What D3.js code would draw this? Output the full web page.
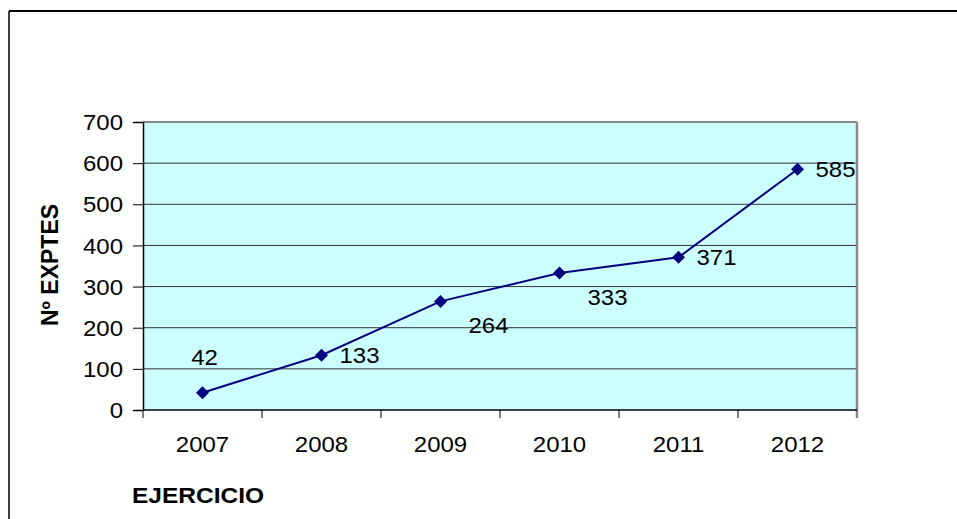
<!DOCTYPE html>
<html>
<head>
  <meta charset="UTF-8">
  <style>
    body { margin: 0; background: #fff; }
    svg text { font-family: 'Liberation Sans', Arial, sans-serif; fill: #000; }
  </style>
</head>
<body>
<svg></svg>
<script src="https://d3js.org/d3.v7.min.js"></script>
<script>
  // data
  const years = ["2007", "2008", "2009", "2010", "2011", "2012"];
  const expedientes = [42, 133, 264, 333, 371, 585];
  const yTicks = [0, 100, 200, 300, 400, 500, 600, 700];
  // where Excel put each data label
  const labelPlace = ["above", "right", "belowRight", "belowRight", "right", "right"];

  let width = 957, height = 519;
  let svg = d3.select("svg").attr("width", width).attr("height", height);

  const sx = 1.09; // the source picture is a bit stretched sideways
  const fs = 22;

  // outer frame (only top and left show)
  svg.append("line").attr("x1", 9).attr("x2", width).attr("y1", 11).attr("y2", 11)
    .attr("stroke", "#000").attr("stroke-width", 2);
  svg.append("line").attr("x1", 9).attr("x2", 9).attr("y1", 11).attr("y2", height)
    .attr("stroke", "#000").attr("stroke-width", 1.5);

  let plotL = 143, plotR = 857, plotT = 122, plotB = 410;

  let x = d3.scaleBand().domain(years).range([plotL, plotR]);
  let y = d3.scaleLinear().domain([0, 700]).range([plotB, plotT]);

  // plot area
  svg.append("rect").attr("x", plotL).attr("y", plotT)
    .attr("width", plotR - plotL).attr("height", plotB - plotT)
    .attr("fill", "#ccffff");

  // gridlines
  svg.append("g").selectAll("line").data(yTicks.filter(d => d > 0 && d < 700)).enter()
    .append("line")
    .attr("x1", plotL).attr("x2", plotR)
    .attr("y1", d => y(d)).attr("y2", d => y(d))
    .attr("stroke", "#333").attr("stroke-width", 1);

  // top + right border of plot
  svg.append("line").attr("x1", plotL).attr("x2", plotR).attr("y1", plotT).attr("y2", plotT)
    .attr("stroke", "#888").attr("stroke-width", 2);
  svg.append("line").attr("x1", plotR).attr("x2", plotR).attr("y1", plotT).attr("y2", plotB + 8)
    .attr("stroke", "#888").attr("stroke-width", 2.5);

  // y axis
  let yAxis = d3.axisLeft(y).tickValues(yTicks).tickSize(10).tickPadding(10);
  let gy = svg.append("g").attr("transform", `translate(${plotL},0)`).call(yAxis);
  gy.select(".domain").attr("stroke", "#000").attr("stroke-width", 1.5);
  gy.selectAll(".tick line").attr("stroke", "#000");
  gy.selectAll(".tick text")
    .attr("font-size", fs)
    .attr("font-family", "'Liberation Sans', Arial, sans-serif")
    .attr("fill", "#000")
    .attr("x", 0).attr("dy", "0.35em")
    .attr("transform", `translate(-20,0) scale(${sx},1)`);

  // x axis: ticks on the band edges
  let edges = years.map(d => x(d)).concat([plotR]);
  svg.append("line").attr("x1", plotL).attr("x2", plotR).attr("y1", plotB).attr("y2", plotB)
    .attr("stroke", "#000").attr("stroke-width", 1.5);
  svg.append("g").selectAll("line").data(edges.slice(0, -1)).enter()
    .append("line")
    .attr("x1", d => d).attr("x2", d => d)
    .attr("y1", plotB).attr("y2", plotB + 8)
    .attr("stroke", "#000");
  svg.append("g").selectAll("text").data(years).enter()
    .append("text")
    .attr("transform", d => `translate(${x(d) + x.bandwidth() / 2},452) scale(${sx},1)`)
    .attr("text-anchor", "middle")
    .attr("font-size", fs)
    .text(d => d);

  // line
  let pts = years.map((d, i) => [x(d) + x.bandwidth() / 2, y(expedientes[i])]);
  svg.append("path")
    .datum(pts)
    .attr("d", d3.line())
    .attr("fill", "none")
    .attr("stroke", "#000080")
    .attr("stroke-width", 2);

  // diamond markers
  svg.append("g").selectAll("path").data(pts).enter()
    .append("path")
    .attr("d", d => `M${d[0]},${d[1] - 6.5}L${d[0] + 6.5},${d[1]}L${d[0]},${d[1] + 6.5}L${d[0] - 6.5},${d[1]}Z`)
    .attr("fill", "#000080");

  // data labels
  const offs = {
    above: { dx: 2, dy: -35, anchor: "middle" },
    right: { dx: 18, dy: 0, anchor: "start" },
    belowRight: { dx: 28, dy: 24, anchor: "start" }
  };
  svg.append("g").selectAll("text").data(pts).enter()
    .append("text")
    .attr("transform", (d, i) => {
      let o = offs[labelPlace[i]];
      return `translate(${d[0] + o.dx},${d[1] + o.dy}) scale(${sx},1)`;
    })
    .attr("text-anchor", (d, i) => offs[labelPlace[i]].anchor)
    .attr("dy", "0.35em")
    .attr("font-size", fs)
    .text((d, i) => expedientes[i]);

  // axis titles
  svg.append("text")
    .attr("transform", "translate(58,265) rotate(-90)")
    .attr("text-anchor", "middle")
    .attr("font-weight", "bold")
    .attr("font-size", 23)
    .text("Nº EXPTES");

  svg.append("text")
    .attr("transform", `translate(132,503) scale(${sx},1)`)
    .attr("font-weight", "bold")
    .attr("font-size", 22.5)
    .text("EJERCICIO");
</script>
</body>
</html>
